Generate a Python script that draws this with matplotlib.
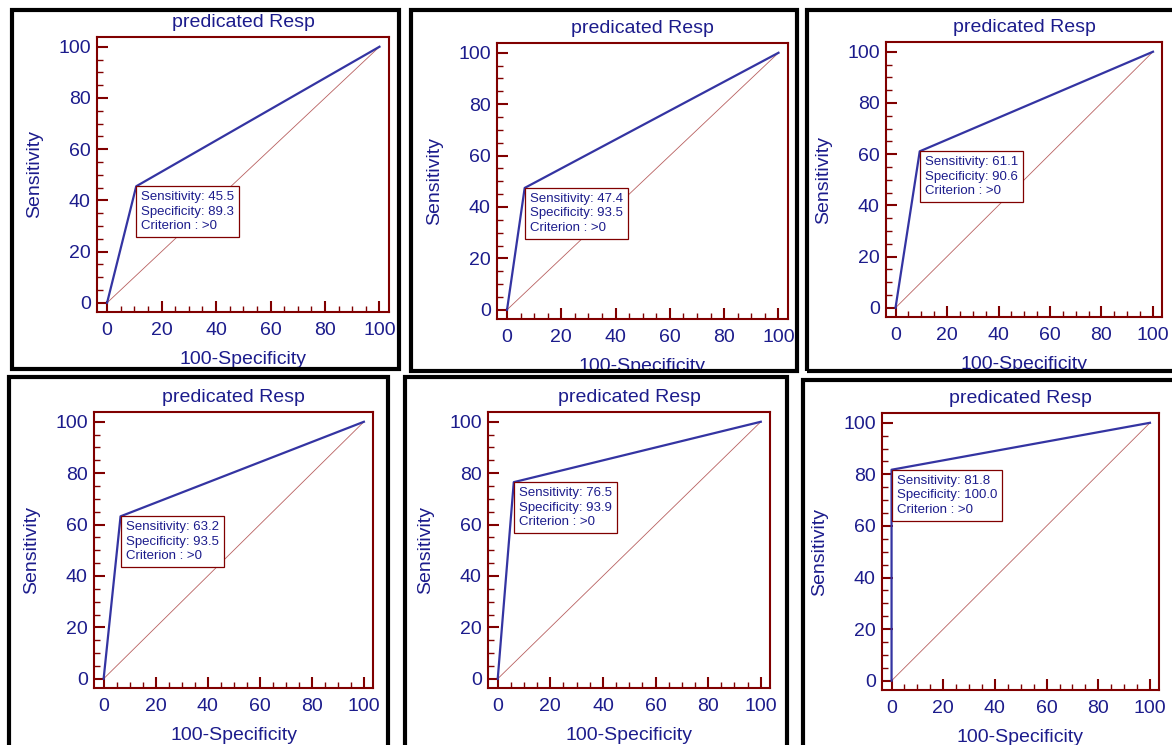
import matplotlib.pyplot as plt
from matplotlib.patches import Rectangle
from matplotlib.transforms import Bbox, TransformedBbox

# cut-off points
sensitivity = [45.5, 47.4, 61.1, 63.2, 76.5, 81.8]
specificity = [89.3, 93.5, 90.6, 93.5, 93.9, 100.0]
criterion = ['>0', '>0', '>0', '>0', '>0', '>0']
title = 'predicated Resp'
ticks = [0, 20, 40, 60, 80, 100]

W, H = 1172, 745
# pixel boxes (left, top, right, bottom) of each plot area and black frame
axes_px = [(97, 37, 389, 312), (497, 43, 788, 319), (886, 42, 1162, 317),
           (94, 412, 373, 688), (488, 412, 770, 688), (882, 413, 1159, 690)]
frames_px = [(12, 10, 399, 369), (411, 10, 797, 371), (807, 10, 1185, 371),
             (9, 377, 388, 755), (405, 377, 787, 755), (803, 380, 1185, 755)]

navy = '#1c1c8c'
roc_blue = '#3434a2'
maroon = '#800000'
diag_red = '#b86060'

plt.rcParams['font.family'] = ['Liberation Sans', 'DejaVu Sans']

fig = plt.figure(figsize=(W / 100, H / 100), dpi=100)
fig.patch.set_facecolor('white')

for i in range(6):
    l, t, r, b = axes_px[i]
    ax = fig.add_axes([l / W, 1 - b / H, (r - l) / W, (b - t) / H])
    fx0, fy0, fx1, fy1 = frames_px[i]
    clip = TransformedBbox(Bbox.from_extents(fx0 / W, 1 - fy1 / H, fx1 / W, 1 - fy0 / H),
                           fig.transFigure)

    fpr = 100 - specificity[i]
    ax.plot([0, 100], [0, 100], color=diag_red, lw=0.6, zorder=2)
    ax.plot([0, fpr, 100], [0, sensitivity[i], 100], color=roc_blue, lw=1.6, zorder=3)

    txt = (f'Sensitivity: {sensitivity[i]:.1f}\n'
           f'Specificity: {specificity[i]:.1f}\n'
           f'Criterion : {criterion[i]}')
    ax.annotate(txt, xy=(fpr, sensitivity[i]), xytext=(3.6, -3.6),
                textcoords='offset points', ha='left', va='top',
                fontsize=9.5, color=navy, linespacing=1.28, zorder=4,
                bbox=dict(boxstyle='square,pad=0.38', fc='white', ec=maroon, lw=0.9))

    ax.set_xlim(-3.7, 103.5)
    ax.set_ylim(-3.6, 103.8)
    ax.set_xticks(ticks)
    ax.set_yticks(ticks)
    ax.set_xticks(range(0, 101, 5), minor=True)
    ax.set_yticks(range(0, 101, 5), minor=True)
    ax.tick_params(which='both', direction='in', color=maroon, labelcolor=navy,
                   labelsize=14, top=False, right=False)
    ax.tick_params(which='major', length=8, width=1.5)
    ax.tick_params(which='minor', length=4.5, width=1.0)
    ax.tick_params(axis='x', which='major', pad=7.5)
    ax.tick_params(axis='y', which='major', pad=4.5)
    for s in ax.spines.values():
        s.set_color(maroon)
        s.set_linewidth(1.5)

    ax.set_title(title, fontsize=14, color=navy, pad=7.5)
    ax.set_xlabel('100-Specificity', fontsize=14, color=navy, labelpad=8.5)
    ax.set_ylabel('Sensitivity', fontsize=14, color=navy, labelpad=11)

    for lab in [ax.xaxis.label, ax.yaxis.label] + ax.get_xticklabels() + ax.get_yticklabels():
        lab.set_clip_box(clip)
        lab.set_clip_on(True)

    fig.patches.append(Rectangle((fx0 / W, 1 - fy1 / H), (fx1 - fx0) / W, (fy1 - fy0) / H,
                                 transform=fig.transFigure, fill=False,
                                 ec='black', lw=3, zorder=10))

fig.savefig('out.png', dpi=100)
